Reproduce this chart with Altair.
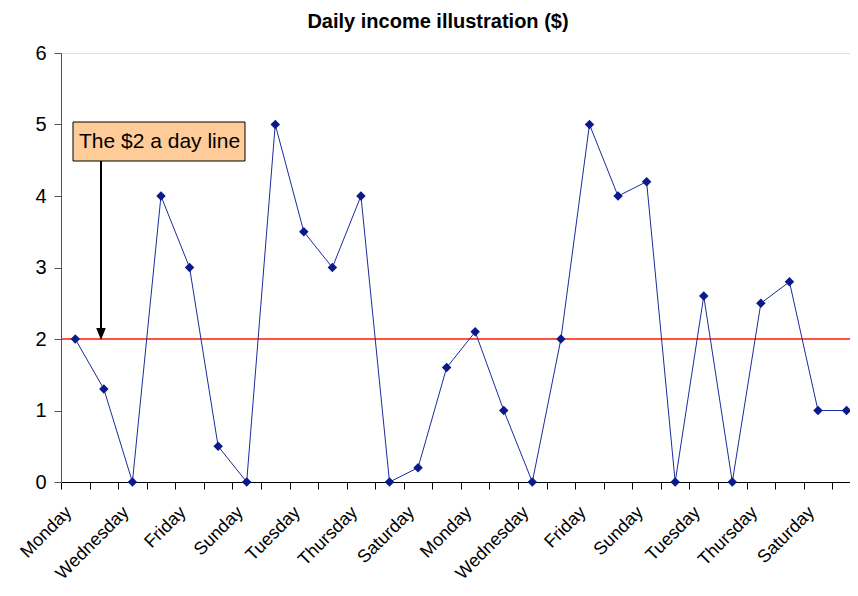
import altair as alt
import pandas as pd

# ---- data ----
day_names = ["Monday", "Tuesday", "Wednesday", "Thursday", "Friday", "Saturday", "Sunday"] * 4
income = [2, 1.3, 0, 4, 3, 0.5, 0,
          5, 3.5, 3, 4, 0, 0.2, 1.6,
          2.1, 1, 0, 2, 5, 4, 4.2,
          0, 2.6, 0, 2.5, 2.8, 1, 1]
labeled_idx = list(range(0, 28, 2))
boundaries = [i - 0.5 for i in range(29)]
y_ticks = [0, 1, 2, 3, 4, 5, 6]
poverty_line = [2]
title_text = "Daily income illustration ($)"
note_text = "The $2 a day line"

df = pd.DataFrame({"idx": list(range(len(income))), "day": day_names, "income": income})
line_df = pd.DataFrame({"level": poverty_line})

FONT = "Liberation Sans"
W, H = 789, 429

xscale = alt.Scale(domain=[-0.5, 27.12], nice=False, zero=False)
yscale = alt.Scale(domain=[0, 6], nice=False, zero=True)

label_expr = "[" + ",".join("'%s'" % d for d in day_names) + "][datum.value]"

y_axis = alt.Axis(values=y_ticks, tickSize=7, tickColor="#555555", domainColor="#555555",
                  labelFontSize=20, labelFont=FONT, labelColor="black", labelPadding=8,
                  grid=False, title=None)

line = alt.Chart(df).mark_line(color="#1a2c9c", strokeWidth=1).encode(
    x=alt.X("idx:Q", scale=xscale,
            axis=alt.Axis(orient="bottom", values=labeled_idx, labelExpr=label_expr, labelAngle=-45,
                          labelAlign="right", labelBaseline="top", labelOffset=-13,
                          ticks=False, domain=True, domainColor="black", grid=False, title=None,
                          labelFontSize=18, labelFont=FONT, labelColor="black", labelPadding=21,
                          labelOverlap=False, labelBound=False, labelFlush=False)),
    y=alt.Y("income:Q", scale=yscale, axis=y_axis),
)

points = alt.Chart(df).mark_point(shape="diamond", filled=True, size=90, color="#0a1a8a", opacity=1).encode(
    x=alt.X("idx:Q", scale=xscale,
            axis=alt.Axis(orient="bottom", values=boundaries, labels=False, ticks=True, tickSize=7,
                          tickColor="black", domain=False, grid=False, title=None)),
    y=alt.Y("income:Q", scale=yscale, axis=y_axis),
)

redline = alt.Chart(line_df).mark_rule(color="#ff1a00", strokeWidth=1.3).encode(
    y=alt.Y("level:Q", scale=yscale, axis=y_axis)
)

box = alt.Chart(line_df).mark_rect(fill="#FFCC99", stroke="black", strokeWidth=1).encode(
    x=alt.value(12), x2=alt.value(184), y=alt.value(69), y2=alt.value(108)
)
note = alt.Chart(line_df).mark_text(text=note_text, font=FONT, fontSize=21, align="left",
                                    baseline="middle", color="black").encode(
    x=alt.value(18), y=alt.value(89)
)
shaft = alt.Chart(line_df).mark_rule(color="black", strokeWidth=2).encode(
    x=alt.value(40), y=alt.value(108), y2=alt.value(278)
)
head = alt.Chart(line_df).mark_point(shape="M-0.8,-1L0.8,-1L0,1Z", filled=True, size=144,
                                     color="black", opacity=1).encode(
    x=alt.value(40), y=alt.value(281)
)
title = alt.Chart(line_df).mark_text(text=title_text, font=FONT, fontSize=20, fontWeight="bold",
                                     align="center", baseline="middle", color="black").encode(
    x=alt.value(377), y=alt.value(-31)
)

chart = alt.layer(redline, line, points, box, note, shaft, head, title).resolve_axis(
    x="independent"
).properties(
    width=W, height=H,
    autosize=alt.AutoSizeParams(type="none"),
    padding={"left": 53, "top": 45, "right": 0, "bottom": 106},
).configure_view(stroke="#999999", strokeWidth=1).configure(background="white")

chart.save("out.html", embed_options={"renderer": "svg", "actions": False})
